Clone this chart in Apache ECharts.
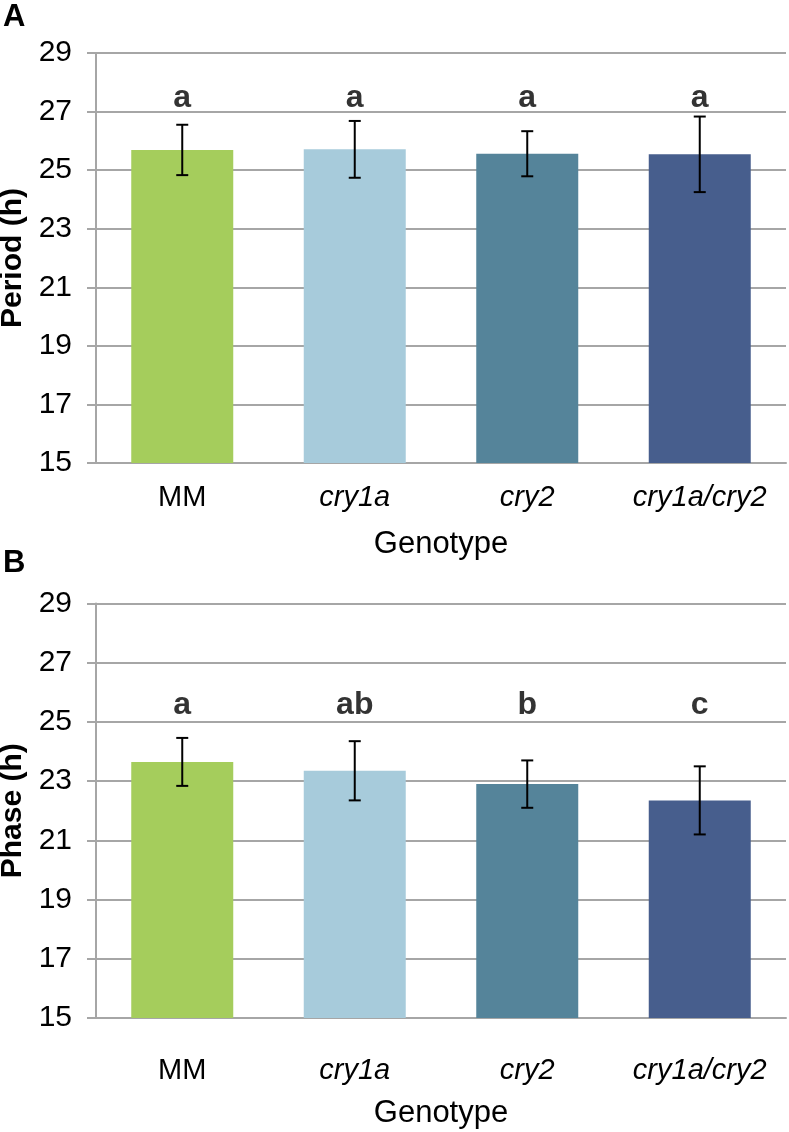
<!DOCTYPE html>
<html>
<head>
<meta charset="utf-8">
<script src="https://cdn.jsdelivr.net/npm/echarts@6/dist/echarts.min.js"></script>
<style>
html,body{margin:0;padding:0;background:#fff;}
#chart{width:789px;height:1132px;}
</style>
</head>
<body>
<div id="chart"></div>
<script>
// ---- data ----
const categories = ['MM', 'cry1a', 'cry2', 'cry1a/cry2'];
const periodMean = [25.69, 25.71, 25.56, 25.54];
const periodErr = [0.86, 0.97, 0.77, 1.29];
const periodLetters = ['a', 'a', 'a', 'a'];
const phaseMean = [23.65, 23.35, 22.90, 22.35];
const phaseErr = [0.81, 1.00, 0.80, 1.15];
const phaseLetters = ['a', 'ab', 'b', 'c'];
const yMin = 15, yMax = 29, yStep = 2;
const barColors = ['#A5CD5C', '#A7CBDB', '#55849A', '#475E8D'];

// ---- styling ----
const FONT = '"Liberation Sans", Arial, sans-serif';
const GRIDC = '#A6A6A6';
const letterLevelA = 27.46;
const letterLevelB = 25.57;

const chart = echarts.init(document.getElementById('chart'), null, {renderer: 'canvas'});

function xAxisCfg(gridIndex, labelMargin, nameGap) {
  return {
    type: 'category', gridIndex: gridIndex, data: categories,
    axisLine: {show: true, lineStyle: {color: GRIDC, width: 2}},
    axisTick: {show: false},
    axisLabel: {
      interval: 0, margin: labelMargin, color: '#000', fontFamily: FONT, fontSize: 29,
      formatter: function (v) { return v === 'MM' ? '{n|' + v + '}' : '{i|' + v + '}'; },
      rich: {
        n: {fontFamily: FONT, fontSize: 29, color: '#000'},
        i: {fontFamily: FONT, fontSize: 29, color: '#000', fontStyle: 'italic'}
      }
    },
    name: 'Genotype', nameLocation: 'middle', nameGap: nameGap,
    nameTextStyle: {fontFamily: FONT, fontSize: 31, color: '#000'}
  };
}
function yAxisCfg(gridIndex, name) {
  return {
    type: 'value', gridIndex: gridIndex, min: yMin, max: yMax, interval: yStep,
    axisLine: {show: true, lineStyle: {color: GRIDC, width: 2}},
    axisTick: {show: true, length: 9, lineStyle: {color: GRIDC, width: 2}},
    splitLine: {show: true, lineStyle: {color: GRIDC, width: 2}},
    axisLabel: {margin: 24, color: '#000', fontFamily: FONT, fontSize: 30},
    name: name, nameLocation: 'middle', nameGap: 64, nameRotate: 90,
    nameTextStyle: {fontFamily: FONT, fontSize: 30, fontWeight: 'bold', color: '#000'}
  };
}
function barSeries(idx, means) {
  return {
    type: 'bar', xAxisIndex: idx, yAxisIndex: idx, barWidth: 102,
    data: means.map(function (m, i) { return {value: m, itemStyle: {color: barColors[i]}}; }),
    z: 2
  };
}
function errSeries(idx, means, errs) {
  return {
    type: 'custom', xAxisIndex: idx, yAxisIndex: idx, z: 5,
    data: means.map(function (m, i) { return [i, m, errs[i]]; }),
    renderItem: function (params, api) {
      const x = api.value(0), m = api.value(1), e = api.value(2);
      const top = api.coord([x, m + e]);
      const bot = api.coord([x, m - e]);
      const hw = 6;
      const st = {stroke: '#000', lineWidth: 2};
      return {type: 'group', children: [
        {type: 'line', shape: {x1: top[0], y1: top[1], x2: bot[0], y2: bot[1]}, style: st},
        {type: 'line', shape: {x1: top[0] - hw, y1: top[1], x2: top[0] + hw, y2: top[1]}, style: st},
        {type: 'line', shape: {x1: bot[0] - hw, y1: bot[1], x2: bot[0] + hw, y2: bot[1]}, style: st}
      ]};
    }
  };
}
function letterSeries(idx, letters, level) {
  return {
    type: 'scatter', xAxisIndex: idx, yAxisIndex: idx, symbolSize: 0, z: 6,
    itemStyle: {color: 'rgba(0,0,0,0)'},
    data: letters.map(function (l, i) { return [i, level]; }),
    label: {
      show: true, position: 'inside',
      formatter: function (p) { return letters[p.dataIndex]; },
      fontFamily: FONT, fontSize: 32, fontWeight: 'bold', color: '#000'
    },
    silent: true
  };
}

chart.setOption({
  animation: false,
  backgroundColor: '#fff',
  grid: [
    {left: 96, right: 3, top: 53, height: 410, outerBoundsMode: 'none', containLabel: false},
    {left: 96, right: 3, top: 603.5, height: 414.5, outerBoundsMode: 'none', containLabel: false}
  ],
  xAxis: [xAxisCfg(0, 20, 66), xAxisCfg(1, 38, 80)],
  yAxis: [yAxisCfg(0, 'Period (h)'), yAxisCfg(1, 'Phase (h)')],
  series: [
    barSeries(0, periodMean), errSeries(0, periodMean, periodErr), letterSeries(0, periodLetters, letterLevelA),
    barSeries(1, phaseMean), errSeries(1, phaseMean, phaseErr), letterSeries(1, phaseLetters, letterLevelB)
  ],
  graphic: [
    {type: 'text', left: 3, top: 2, style: {text: 'A', fontFamily: FONT, fontSize: 31, fontWeight: 'bold', fill: '#000'}},
    {type: 'text', left: 3, top: 548, style: {text: 'B', fontFamily: FONT, fontSize: 31, fontWeight: 'bold', fill: '#000'}}
  ]
});
</script>
</body>
</html>
